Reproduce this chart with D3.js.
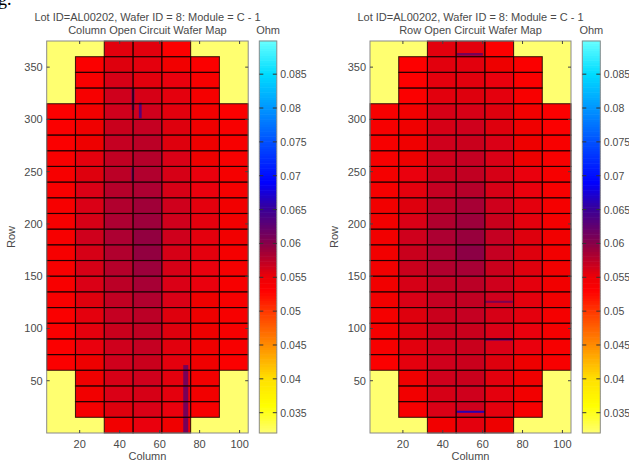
<!DOCTYPE html>
<html><head><meta charset="utf-8">
<script src="https://cdn.jsdelivr.net/npm/d3@7"></script>
<style>
body{margin:0;background:#fff}
svg{display:block}
text{font-family:"Liberation Sans",Arial,sans-serif}
</style>
</head><body>
<svg id="chart" width="629" height="461"></svg>
<script>
// ---------------- data ----------------
const titleLine1 = "Lot ID=AL00202, Wafer ID = 8: Module = C - 1";
const mapTitles = ["Column Open Circuit Wafer Map", "Row Open Circuit Wafer Map"];
const unitLabel = "Ohm";
const xLabel = "Column";
const yLabel = "Row";

const colEdges = [3.5, 17.9, 32.3, 46.7, 61.1, 75.5, 89.9, 104.3];
const rowEdges = [0,15,30,45,60,75,90,105,120,135,150,165,180,195,210,225,240,255,270,285,300,315,330,345,360,375];
const xTicks = [20, 40, 60, 80, 100];
const yTicks = [50, 100, 150, 200, 250, 300, 350];
const cbTicks = [0.035, 0.04, 0.045, 0.05, 0.055, 0.06, 0.065, 0.07, 0.075, 0.08, 0.085];
const cbDomain = [0.032, 0.0899];

const cmapStops  = [0.032, 0.036, 0.040, 0.045, 0.050, 0.053, 0.055, 0.060, 0.065, 0.069, 0.075, 0.080, 0.085, 0.0899];
const cmapColors = ["#ffff70","#ffff00","#ffe000","#ff8c00","#ff3800","#ff0000","#ee0006","#880048","#3a0096","#0000ff","#0050ff","#0096ff","#00dcff","#66ffff"];

// rows listed top (y 360-375) to bottom (y 0-15); null = outside wafer
const columnMap = [
 [null,null,0.0556,0.0556,0.0532,null,null],
 [null,0.0535,0.0558,0.0555,0.0545,0.0535,null],
 [null,0.0538,0.0562,0.0556,0.0552,0.0540,null],
 [null,0.0540,0.0565,0.0562,0.0555,0.0542,null],
 [0.0535,0.0545,0.0565,0.0565,0.0556,0.0545,0.0535],
 [0.0535,0.0548,0.0568,0.0570,0.0558,0.0548,0.0538],
 [0.0535,0.0550,0.0570,0.0575,0.0558,0.0550,0.0540],
 [0.0538,0.0555,0.0572,0.0578,0.0560,0.0550,0.0540],
 [0.0540,0.0558,0.0575,0.0580,0.0562,0.0552,0.0542],
 [0.0540,0.0560,0.0578,0.0582,0.0562,0.0552,0.0542],
 [0.0540,0.0560,0.0580,0.0588,0.0565,0.0555,0.0545],
 [0.0540,0.0562,0.0582,0.0590,0.0565,0.0555,0.0545],
 [0.0540,0.0565,0.0582,0.0595,0.0565,0.0555,0.0545],
 [0.0540,0.0562,0.0580,0.0595,0.0562,0.0555,0.0542],
 [0.0540,0.0562,0.0578,0.0590,0.0562,0.0552,0.0542],
 [0.0538,0.0560,0.0575,0.0585,0.0560,0.0552,0.0540],
 [0.0538,0.0558,0.0572,0.0580,0.0560,0.0550,0.0540],
 [0.0536,0.0555,0.0570,0.0575,0.0558,0.0550,0.0540],
 [0.0535,0.0555,0.0568,0.0572,0.0558,0.0550,0.0538],
 [0.0535,0.0552,0.0565,0.0570,0.0556,0.0548,0.0538],
 [0.0535,0.0550,0.0565,0.0568,0.0555,0.0548,0.0535],
 [null,0.0548,0.0562,0.0565,0.0555,0.0545,null],
 [null,0.0545,0.0560,0.0562,0.0555,0.0545,null],
 [null,0.0542,0.0558,0.0560,0.0552,0.0540,null],
 [null,null,0.0545,0.0552,0.0548,null,null]
];
const rowMap = [
 [null,null,0.0556,0.0556,0.0532,null,null],
 [null,0.0532,0.0556,0.0556,0.0550,0.0535,null],
 [null,0.0532,0.0555,0.0556,0.0552,0.0535,null],
 [null,0.0535,0.0556,0.0558,0.0555,0.0538,null],
 [0.0538,0.0545,0.0562,0.0562,0.0558,0.0545,0.0535],
 [0.0540,0.0548,0.0562,0.0565,0.0558,0.0548,0.0535],
 [0.0540,0.0548,0.0565,0.0568,0.0560,0.0550,0.0538],
 [0.0540,0.0550,0.0565,0.0570,0.0560,0.0550,0.0538],
 [0.0542,0.0552,0.0568,0.0572,0.0562,0.0552,0.0540],
 [0.0542,0.0555,0.0570,0.0578,0.0562,0.0552,0.0540],
 [0.0545,0.0558,0.0575,0.0585,0.0565,0.0555,0.0542],
 [0.0545,0.0560,0.0580,0.0590,0.0568,0.0555,0.0542],
 [0.0545,0.0565,0.0582,0.0592,0.0570,0.0558,0.0545],
 [0.0545,0.0568,0.0582,0.0598,0.0570,0.0558,0.0545],
 [0.0545,0.0568,0.0580,0.0585,0.0568,0.0558,0.0545],
 [0.0545,0.0562,0.0572,0.0575,0.0565,0.0555,0.0545],
 [0.0545,0.0560,0.0570,0.0572,0.0565,0.0555,0.0545],
 [0.0542,0.0558,0.0568,0.0570,0.0562,0.0555,0.0542],
 [0.0542,0.0558,0.0568,0.0568,0.0560,0.0552,0.0542],
 [0.0540,0.0556,0.0565,0.0568,0.0560,0.0552,0.0540],
 [0.0535,0.0555,0.0565,0.0568,0.0558,0.0550,0.0538],
 [null,0.0548,0.0565,0.0568,0.0556,0.0548,null],
 [null,0.0545,0.0562,0.0565,0.0555,0.0545,null],
 [null,0.0540,0.0560,0.0565,0.0555,0.0540,null],
 [null,null,0.0545,0.0555,0.0550,null,null]
];
// fine streaks: [x0, x1, y0, y1, value]
const columnStreaks = [
 [46.0, 47.4, 309, 330, 0.0620],
 [49.6, 51.0, 301, 316, 0.0630],
 [45.9, 47.2, 240, 254, 0.0620],
 [71.8, 74.3, 0, 65, 0.0610]
];
const rowStreaks = [
 [47.1, 60.1, 361, 363.5, 0.0610],
 [61.1, 75.1, 124.5, 126.5, 0.0605],
 [61.1, 75.1, 88.5, 90.5, 0.0640],
 [46.9, 61.1, 19.3, 21.3, 0.0660]
];

// ---------------- layout ----------------
const svg = d3.select("#chart");
const panels = [
  {left: 46.7, right: 248.2, cbLeft: 259.3, cbRight: 276.8, values: columnMap, streaks: columnStreaks, title: mapTitles[0]},
  {left: 370.0, right: 571.0, cbLeft: 582.3, cbRight: 600.3, values: rowMap, streaks: rowStreaks, title: mapTitles[1]}
];
const plotTop = 41, plotBottom = 433;
const textColor = "#4a4a4a";
const fs = 11;

const color = d3.scaleLinear().domain(cmapStops).range(cmapColors).interpolate(d3.interpolateRgb).clamp(true);

svg.append("defs").append("filter").attr("id", "soft")
  .attr("x", "-2%").attr("y", "-2%").attr("width", "104%").attr("height", "104%")
  .append("feGaussianBlur").attr("stdDeviation", 0.45);

// document fragment at top-left
svg.append("text").attr("x", -2).attr("y", 5).attr("font-size", 18)
  .style("font-family", "'Liberation Serif',serif").attr("fill", "#000").text("g.");

panels.forEach(p => {
  const x = d3.scaleLinear().domain([colEdges[0], colEdges[colEdges.length - 1]]).range([p.left, p.right]);
  const y = d3.scaleLinear().domain([rowEdges[0], rowEdges[rowEdges.length - 1]]).range([plotBottom, plotTop]);
  const g = svg.append("g");
  const mg = g.append("g").attr("filter", "url(#soft)");

  mg.append("rect").attr("x", p.left).attr("y", plotTop).attr("width", p.right - p.left).attr("height", plotBottom - plotTop)
    .attr("fill", color(cbDomain[0]));

  const cells = [];
  p.values.forEach((row, ri) => {
    const r = rowEdges.length - 2 - ri;
    row.forEach((v, ci) => { if (v !== null) cells.push({r, c: ci, v}); });
  });

  mg.selectAll("rect.cell").data(cells).join("rect").attr("class", "cell")
    .attr("x", d => x(colEdges[d.c])).attr("y", d => y(rowEdges[d.r + 1]))
    .attr("width", d => x(colEdges[d.c + 1]) - x(colEdges[d.c]))
    .attr("height", d => y(rowEdges[d.r]) - y(rowEdges[d.r + 1]))
    .attr("fill", d => color(d.v));

  mg.selectAll("rect.streak").data(p.streaks).join("rect").attr("class", "streak")
    .attr("x", d => x(d[0])).attr("y", d => y(d[3]))
    .attr("width", d => x(d[1]) - x(d[0])).attr("height", d => y(d[2]) - y(d[3]))
    .attr("fill", d => color(d[4]));

  mg.selectAll("rect.grid").data(cells).join("rect").attr("class", "grid")
    .attr("x", d => x(colEdges[d.c])).attr("y", d => y(rowEdges[d.r + 1]))
    .attr("width", d => x(colEdges[d.c + 1]) - x(colEdges[d.c]))
    .attr("height", d => y(rowEdges[d.r]) - y(rowEdges[d.r + 1]))
    .attr("fill", "none").attr("stroke", "#1a0000").attr("stroke-opacity", 0.8).attr("stroke-width", 1.1);

  g.append("rect").attr("x", p.left).attr("y", plotTop).attr("width", p.right - p.left).attr("height", plotBottom - plotTop)
    .attr("fill", "none").attr("stroke", "#8a8a8a").attr("stroke-width", 1);

  const tl = 3;
  xTicks.forEach(t => {
    g.append("line").attr("x1", x(t)).attr("x2", x(t)).attr("y1", plotBottom).attr("y2", plotBottom - tl).attr("stroke", "#444");
    g.append("line").attr("x1", x(t)).attr("x2", x(t)).attr("y1", plotTop).attr("y2", plotTop + tl).attr("stroke", "#444");
  });
  yTicks.forEach(t => {
    g.append("line").attr("x1", p.left).attr("x2", p.left + tl).attr("y1", y(t)).attr("y2", y(t)).attr("stroke", "#444");
    g.append("line").attr("x1", p.right).attr("x2", p.right - tl).attr("y1", y(t)).attr("y2", y(t)).attr("stroke", "#444");
  });

  g.selectAll("text.xt").data(xTicks).join("text").attr("class", "xt")
    .attr("x", d => x(d)).attr("y", plotBottom + 14.5).attr("text-anchor", "middle")
    .attr("font-size", fs).attr("fill", textColor).text(d => d);
  g.selectAll("text.yt").data(yTicks).join("text").attr("class", "yt")
    .attr("x", p.left - 4).attr("y", d => y(d) + 4).attr("text-anchor", "end")
    .attr("font-size", fs).attr("fill", textColor).text(d => d);

  const cx = (p.left + p.right) / 2;
  g.append("text").attr("x", cx).attr("y", 460).attr("text-anchor", "middle")
    .attr("font-size", fs).attr("fill", textColor).text(xLabel);
  g.append("text").attr("transform", `translate(${p.left - 32},${(plotTop + plotBottom) / 2}) rotate(-90)`)
    .attr("text-anchor", "middle").attr("font-size", fs).attr("fill", textColor).text(yLabel);
  g.append("text").attr("x", cx).attr("y", 20.5).attr("text-anchor", "middle")
    .attr("font-size", fs).attr("fill", textColor).text(titleLine1);
  g.append("text").attr("x", cx).attr("y", 34).attr("text-anchor", "middle")
    .attr("font-size", fs).attr("fill", textColor).text(p.title);

  const cy = d3.scaleLinear().domain(cbDomain).range([plotBottom, plotTop]);
  const nb = 160;
  const bands = d3.range(nb).map(i => cbDomain[0] + (cbDomain[1] - cbDomain[0]) * (i + 0.5) / nb);
  const bh = (plotBottom - plotTop) / nb;
  g.selectAll("rect.cb").data(bands).join("rect").attr("class", "cb")
    .attr("x", p.cbLeft).attr("width", p.cbRight - p.cbLeft)
    .attr("y", d => cy(d) - bh / 2 - 0.3).attr("height", bh + 0.6)
    .attr("fill", d => color(d));
  g.append("rect").attr("x", p.cbLeft).attr("y", plotTop).attr("width", p.cbRight - p.cbLeft).attr("height", plotBottom - plotTop)
    .attr("fill", "none").attr("stroke", "#8a8a8a");
  cbTicks.forEach(t => {
    g.append("line").attr("x1", p.cbLeft).attr("x2", p.cbLeft + 4).attr("y1", cy(t)).attr("y2", cy(t)).attr("stroke", "#333");
    g.append("line").attr("x1", p.cbRight).attr("x2", p.cbRight - 4).attr("y1", cy(t)).attr("y2", cy(t)).attr("stroke", "#333");
  });
  g.selectAll("text.cbt").data(cbTicks).join("text").attr("class", "cbt")
    .attr("x", p.cbRight + 3.5).attr("y", d => cy(d) + 4)
    .attr("font-size", 10.5).attr("fill", textColor).text(d => String(+d.toFixed(3)));
  g.append("text").attr("x", (p.cbLeft + p.cbRight) / 2).attr("y", 34).attr("text-anchor", "middle")
    .attr("font-size", fs).attr("fill", textColor).text(unitLabel);
});
</script>
</body></html>
